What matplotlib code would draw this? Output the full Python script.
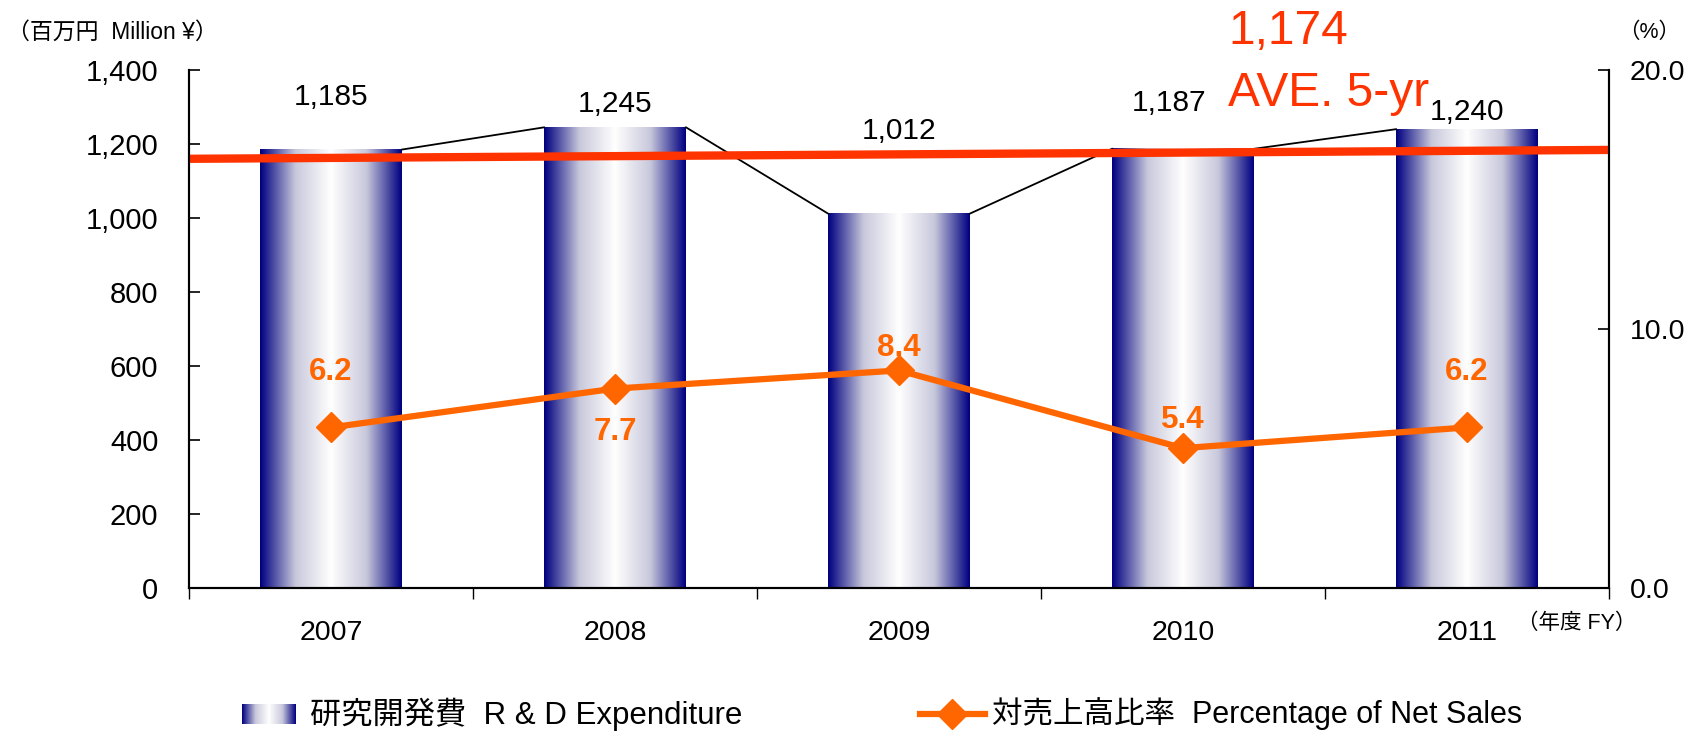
import numpy as np
import matplotlib
matplotlib.use("Agg")
import matplotlib.pyplot as plt
from matplotlib.colors import LinearSegmentedColormap
from matplotlib.lines import Line2D

plt.rcParams['font.family'] = ['Liberation Sans', 'Noto Sans CJK JP', 'DejaVu Sans']

years = ['2007', '2008', '2009', '2010', '2011']
rd_exp = [1185, 1245, 1012, 1187, 1240]
rd_labels = ['1,185', '1,245', '1,012', '1,187', '1,240']
pct_sales = [6.2, 7.7, 8.4, 5.4, 6.2]
avg_line = [1160, 1184]   # trend line at left / right edge
avg_text = ['1,174', 'AVE. 5-yr']

# label placement (layout only)
rd_label_y = [1327, 1308, 1235, 1311, 1286]
rd_label_dx = [0, 0, 0, -0.05, 0]
pct_offset = [40, -31, 16, 20, 40]

W, H = 1688, 731
fig = plt.figure(figsize=(W / 100, H / 100), dpi=100)


def fx(x):
    return x / W


def fy(y):
    return 1 - y / H


ax = fig.add_axes([fx(189), fy(588), fx(1609) - fx(189), fy(70) - fy(588)])
ax2 = ax.twinx()

navy = '#000080'
cmap = LinearSegmentedColormap.from_list('bar', [navy, '#c8c8dc', '#ffffff', '#c8c8dc', navy])
grad = np.linspace(0, 1, 256).reshape(1, -1)

bw = 0.5
xs = np.arange(len(years))
for x, v in zip(xs, rd_exp):
    ax.imshow(grad, cmap=cmap, aspect='auto', extent=[x - bw / 2, x + bw / 2, 0, v],
              zorder=1, interpolation='bilinear')

# series lines between bar tops
for i in range(len(xs) - 1):
    ax.plot([xs[i] + bw / 2, xs[i + 1] - bw / 2], [rd_exp[i], rd_exp[i + 1]],
            color='black', lw=1.3, zorder=2)

for x, ly, dx, t in zip(xs, rd_label_y, rd_label_dx, rd_labels):
    ax.text(x + dx, ly, t, ha='center', va='center', fontsize=21.5, zorder=3)

ax.plot([-0.5, len(years) - 0.5], avg_line, color='#ff3300', lw=6, zorder=4,
        solid_capstyle='butt')

ax.set_xlim(-0.5, len(years) - 0.5)
ax.set_ylim(0, 1400)
ax.set_yticks(range(0, 1401, 200))
ax.set_yticklabels([f'{v:,}' for v in range(0, 1401, 200)])
ax.set_xticks(xs)
ax.set_xticklabels(years)
ax.set_xticks(np.arange(-0.5, len(years)), minor=True)
ax.tick_params(axis='x', which='major', length=0, pad=23, labelsize=20.5)
ax.tick_params(axis='x', which='minor', length=8, direction='out', width=1)
ax.tick_params(axis='y', direction='in', length=8, width=1.2, pad=22, labelsize=21)

ax2.plot(xs, pct_sales, color='#ff6600', lw=4.5, marker='D', markersize=15, zorder=5)
for x, v, off in zip(xs, pct_sales, pct_offset):
    ax2.annotate(f'{v}', (x, v), xytext=(0, off), textcoords='offset points',
                 ha='center', va='center', fontsize=22.5, fontweight='bold', color='#ff6600')
ax2.set_ylim(0, 20)
ax2.set_yticks([0, 10, 20])
ax2.set_yticklabels(['0.0', '10.0', '20.0'])
ax2.tick_params(axis='y', direction='in', length=8, width=1.2, pad=15, labelsize=20.5)

for a in (ax, ax2):
    a.spines['top'].set_visible(False)
    for s in ('left', 'right', 'bottom'):
        a.spines[s].set_linewidth(1.5)

# unit labels
fig.text(fx(112), fy(32), '（百万円  Million ¥）', ha='center', va='center', fontsize=16.5)
fig.text(fx(1649), fy(32), '（%）', ha='center', va='center', fontsize=15.5)
fig.text(fx(1577), fy(623), '（年度 FY）', ha='center', va='center', fontsize=15.5)

# average annotation
fig.text(fx(1228), fy(32), avg_text[0], ha='left', va='center', fontsize=34.5, color='#ff3300')
fig.text(fx(1228), fy(94), avg_text[1], ha='left', va='center', fontsize=34.5, color='#ff3300')

# legend
lax = fig.add_axes([fx(242), fy(724), fx(296) - fx(242), fy(704) - fy(724)])
lax.imshow(grad, cmap=cmap, aspect='auto', interpolation='bilinear')
lax.axis('off')
fig.text(fx(310), fy(714), '研究開発費  R & D Expenditure', ha='left', va='center', fontsize=22.5)
fig.add_artist(Line2D([fx(920), fx(985)], [fy(714), fy(714)], color='#ff6600', lw=4.5,
                      transform=fig.transFigure))
fig.add_artist(Line2D([fx(952)], [fy(714)], color='#ff6600', marker='D', markersize=15,
                      lw=0, transform=fig.transFigure))
fig.text(fx(992), fy(714), '対売上高比率  Percentage of Net Sales', ha='left', va='center', fontsize=22)

fig.savefig('out.png', dpi=100)
